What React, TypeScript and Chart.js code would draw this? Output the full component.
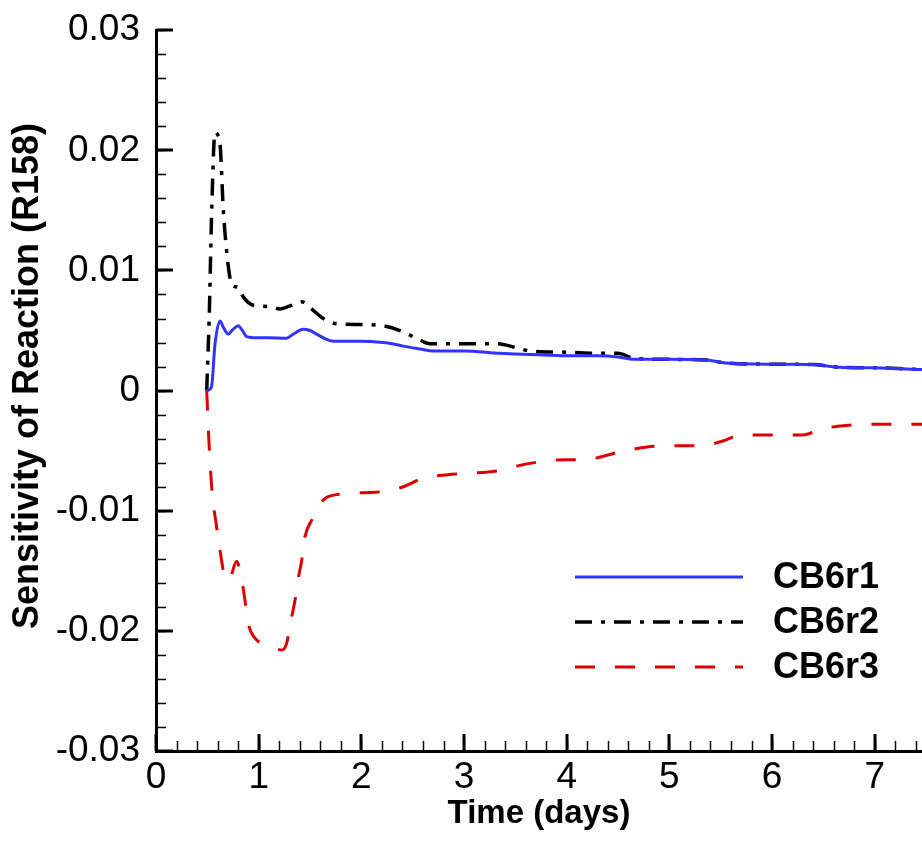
import React, { useEffect, useRef } from 'react';
import { Chart, registerables } from 'chart.js';

Chart.register(...registerables);

// ---- data ----
const seriesNames = ['CB6r1', 'CB6r2', 'CB6r3'];

const cb6r1Time = [0.494, 0.54, 0.575, 0.623, 0.66, 0.704, 0.75, 0.8, 0.834, 0.883, 0.98, 1.1, 1.27, 1.337, 1.434, 1.5, 1.565, 1.65, 1.73, 2.0, 2.21, 2.3, 2.41, 2.57, 2.7, 3.0, 3.35, 3.67, 4.0, 4.3, 4.5, 4.65, 5.0, 5.36, 5.55, 6.0, 6.4, 6.66, 7.0, 7.46];
const cb6r1Values = [0, 0.0003, 0.0039, 0.0058, 0.0052, 0.0047, 0.0051, 0.0054, 0.0051, 0.0045, 0.0044, 0.0044, 0.00435, 0.0047, 0.0051, 0.005, 0.0047, 0.0043, 0.0041, 0.0041, 0.004, 0.0039, 0.0037, 0.00347, 0.0033, 0.0033, 0.0031, 0.003, 0.0029, 0.0029, 0.0028, 0.0026, 0.0026, 0.00255, 0.0023, 0.0022, 0.00217, 0.00194, 0.0019, 0.00175];

const cb6r2Time = [0.494, 0.52, 0.54, 0.575, 0.6, 0.623, 0.656, 0.69, 0.72, 0.737, 0.8, 0.85, 0.947, 1.1, 1.207, 1.32, 1.418, 1.5, 1.63, 1.73, 2.0, 2.21, 2.376, 2.55, 2.668, 3.0, 3.32, 3.5, 3.64, 4.0, 4.32, 4.5, 4.65, 5.0, 5.36, 5.55, 6.0, 6.4, 6.66, 7.0, 7.46];
const cb6r2Values = [0, 0.0067, 0.0142, 0.0215, 0.0213, 0.0206, 0.015, 0.0114, 0.0094, 0.00875, 0.0086, 0.0078, 0.0071, 0.007, 0.0068, 0.0071, 0.0074, 0.0069, 0.006, 0.0056, 0.0055, 0.0054, 0.005, 0.0043, 0.0039, 0.0039, 0.0039, 0.0036, 0.0033, 0.0032, 0.0031, 0.0031, 0.0027, 0.0026, 0.00255, 0.0023, 0.0022, 0.00217, 0.00194, 0.0019, 0.00175];

const cb6r3Time = [0.494, 0.51, 0.543, 0.591, 0.64, 0.656, 0.7, 0.72, 0.785, 0.834, 0.867, 0.899, 0.964, 1.05, 1.142, 1.223, 1.27, 1.32, 1.353, 1.386, 1.418, 1.45, 1.515, 1.63, 1.73, 1.827, 2.0, 2.21, 2.41, 2.6, 2.84, 3.0, 3.32, 3.61, 4.0, 4.16, 4.52, 4.78, 5.0, 5.3, 5.52, 5.69, 6.08, 6.3, 6.48, 6.72, 7.0, 7.46];
const cb6r3Values = [0, -0.0033, -0.0081, -0.0114, -0.0142, -0.015, -0.0158, -0.0157, -0.0142, -0.0157, -0.0175, -0.0194, -0.0206, -0.0211, -0.0214, -0.0216, -0.0211, -0.0189, -0.0175, -0.0156, -0.0142, -0.0122, -0.0108, -0.0091, -0.0087, -0.0086, -0.0085, -0.0084, -0.008, -0.0073, -0.007, -0.0069, -0.0067, -0.0061, -0.00575, -0.00575, -0.0051, -0.0047, -0.0046, -0.0046, -0.0042, -0.0037, -0.0037, -0.0037, -0.0032, -0.0029, -0.0028, -0.0028];

const xMin = 0;
const xMax = 7.46;
const yMin = -0.03;
const yMax = 0.03;
const xTickValues = [0, 1, 2, 3, 4, 5, 6, 7];
const xTickLabels = ['0', '1', '2', '3', '4', '5', '6', '7'];
const yTickValues = [-0.03, -0.02, -0.01, 0, 0.01, 0.02, 0.03];
const yTickLabels = ['-0.03', '-0.02', '-0.01', '0', '0.01', '0.02', '0.03'];
const xMinorStep = 0.2;
const yMinorStep = 0.002;
const xTitle = 'Time (days)';
const yTitle = 'Sensitivity of Reaction (R158)';

const FONT = '"Liberation Sans", Arial, Helvetica, sans-serif';

const toPoints = (t: number[], v: number[]) => t.map((x, i) => ({ x, y: v[i] }));

const inwardTicks = {
  id: 'inwardTicks',
  afterDatasetsDraw(chart: any) {
    const { ctx, chartArea } = chart;
    const xs = chart.scales.x;
    const ys = chart.scales.y;
    ctx.save();
    ctx.strokeStyle = '#000';
    ctx.lineWidth = 1.5;
    for (let k = 0; xMin + k * xMinorStep <= xMax + 1e-9; k++) {
      const v = xMin + k * xMinorStep;
      const px = Math.round(xs.getPixelForValue(v)) + 0.5;
      ctx.beginPath();
      ctx.moveTo(px, chartArea.bottom);
      ctx.lineTo(px, chartArea.bottom - 10);
      ctx.stroke();
    }
    for (let k = 0; yMin + k * yMinorStep <= yMax + 1e-9; k++) {
      const v = yMin + k * yMinorStep;
      const py = Math.round(ys.getPixelForValue(v)) + 0.5;
      ctx.beginPath();
      ctx.moveTo(chartArea.left, py);
      ctx.lineTo(chartArea.left + 10, py);
      ctx.stroke();
    }
    ctx.lineWidth = 3;
    xTickValues.forEach((v) => {
      const px = Math.round(xs.getPixelForValue(v));
      ctx.beginPath();
      ctx.moveTo(px, chartArea.bottom);
      ctx.lineTo(px, chartArea.bottom - 17);
      ctx.stroke();
    });
    yTickValues.forEach((v) => {
      const py = Math.round(ys.getPixelForValue(v));
      ctx.beginPath();
      ctx.moveTo(chartArea.left, py);
      ctx.lineTo(chartArea.left + 17, py);
      ctx.stroke();
    });
    ctx.restore();
  },
};

const yTitlePlugin = {
  id: 'yTitlePlugin',
  afterDraw(chart: any) {
    const { ctx } = chart;
    ctx.save();
    ctx.translate(28, 376);
    ctx.rotate(-Math.PI / 2);
    ctx.fillStyle = '#000';
    ctx.font = `bold 36px ${FONT}`;
    ctx.textAlign = 'center';
    ctx.textBaseline = 'middle';
    ctx.fillText(yTitle, 0, 0);
    ctx.restore();
  },
};

const customLegend = {
  id: 'customLegend',
  afterDraw(chart: any) {
    const { ctx } = chart;
    const rows = [577, 622, 667];
    ctx.save();
    chart.data.datasets.forEach((ds: any, i: number) => {
      const y = rows[i];
      ctx.strokeStyle = ds.borderColor;
      ctx.lineWidth = ds.borderWidth;
      ctx.setLineDash(ds.borderDash || []);
      ctx.beginPath();
      ctx.moveTo(575, y);
      ctx.lineTo(743, y);
      ctx.stroke();
      ctx.setLineDash([]);
      ctx.fillStyle = '#000';
      ctx.font = `bold 36px ${FONT}`;
      ctx.textAlign = 'left';
      ctx.textBaseline = 'middle';
      ctx.fillText(ds.label, 773, y + 1);
    });
    ctx.restore();
  },
};

export default function App() {
  const canvasRef = useRef<HTMLCanvasElement | null>(null);

  useEffect(() => {
    document.body.style.margin = '0';
    const canvas = canvasRef.current;
    if (!canvas) return;
    Chart.defaults.font.family = FONT;
    Chart.defaults.color = '#000';
    const chart = new Chart(canvas, {
      type: 'line',
      data: {
        datasets: [
          {
            label: seriesNames[0],
            data: toPoints(cb6r1Time, cb6r1Values),
            borderColor: '#3333ff',
            borderWidth: 3,
            pointRadius: 0,
            cubicInterpolationMode: 'monotone',
            fill: false,
          },
          {
            label: seriesNames[1],
            data: toPoints(cb6r2Time, cb6r2Values),
            borderColor: '#000000',
            borderWidth: 3.5,
            borderDash: [17, 9, 4, 9],
            pointRadius: 0,
            cubicInterpolationMode: 'monotone',
            fill: false,
          },
          {
            label: seriesNames[2],
            data: toPoints(cb6r3Time, cb6r3Values),
            borderColor: '#dd0000',
            borderWidth: 3,
            borderDash: [20, 20],
            pointRadius: 0,
            cubicInterpolationMode: 'monotone',
            fill: false,
          },
        ],
      },
      options: {
        responsive: false,
        animation: false,
        events: [],
        layout: { padding: { top: 30, right: 0, left: 0, bottom: 0 } },
        plugins: { legend: { display: false }, tooltip: { enabled: false } },
        scales: {
          x: {
            type: 'linear',
            min: xMin,
            max: xMax,
            grid: { display: false },
            border: { display: true, color: '#000', width: 3 },
            afterBuildTicks: (scale: any) => {
              scale.ticks = xTickValues.map((v) => ({ value: v }));
            },
            afterFit: (scale: any) => {
              scale.height = 90;
            },
            ticks: {
              padding: -3,
              maxRotation: 0,
              autoSkip: false,
              color: '#000',
              font: { size: 37 },
              callback: (v: any) => {
                const i = xTickValues.findIndex((t) => Math.abs(t - v) < 1e-9);
                return i >= 0 ? xTickLabels[i] : '';
              },
            },
            title: {
              display: true,
              text: xTitle,
              color: '#000',
              font: { size: 33, weight: 'bold' },
              padding: { top: 0, bottom: 7 },
            },
          },
          y: {
            type: 'linear',
            min: yMin,
            max: yMax,
            grid: { display: false },
            border: { display: true, color: '#000', width: 3 },
            afterBuildTicks: (scale: any) => {
              scale.ticks = yTickValues.map((v) => ({ value: v }));
            },
            afterFit: (scale: any) => {
              scale.width = 156;
            },
            ticks: {
              padding: 8,
              autoSkip: false,
              color: '#000',
              font: { size: 37 },
              callback: (v: any) => {
                const i = yTickValues.findIndex((t) => Math.abs(t - v) < 1e-9);
                return i >= 0 ? yTickLabels[i] : '';
              },
            },
            title: { display: false },
          },
        },
      },
      plugins: [inwardTicks, yTitlePlugin, customLegend],
    } as any);
    return () => chart.destroy();
  }, []);

  return (
    <canvas
      ref={canvasRef}
      width={922}
      height={841}
      style={{ display: 'block', width: '922px', height: '841px' }}
    />
  );
}
